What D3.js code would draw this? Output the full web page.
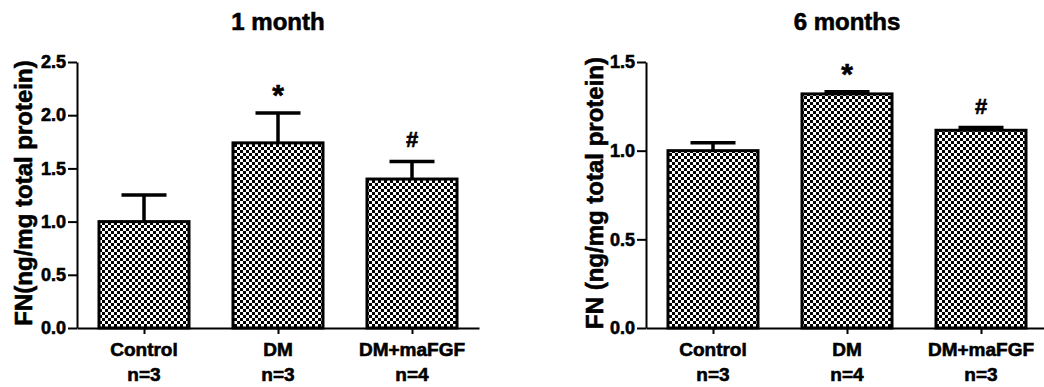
<!DOCTYPE html>
<html>
<head>
<meta charset="utf-8">
<script src="https://cdn.jsdelivr.net/npm/d3@7/dist/d3.min.js"></script>
<style>
  body { margin: 0; background: #fff; }
  svg { display: block; font-family: Arial, "Liberation Sans", sans-serif; }
  svg text { stroke: #000; stroke-width: 0.6px; }
</style>
</head>
<body>
<svg id="chart" width="1044" height="387"></svg>
<script>
// groups shown in both panels
const categories = ["Control", "DM", "DM+maFGF"];

// 1 month panel
const month1Means = [1.0, 1.74, 1.40];
const month1Errors = [0.25, 0.28, 0.165];
const month1Counts = ["n=3", "n=3", "n=4"];
const month1Marks = ["", "*", "#"];
const month1Ticks = [0, 0.5, 1.0, 1.5, 2.0, 2.5];

// 6 months panel
const month6Means = [1.0, 1.32, 1.115];
const month6Errors = [0.045, 0.012, 0.015];
const month6Counts = ["n=3", "n=4", "n=3"];
const month6Marks = ["", "*", "#"];
const month6Ticks = [0, 0.5, 1.0, 1.5];

const svg = d3.select("#chart");

// checkered fill used by every bar
const pat = svg.append("defs").append("pattern")
    .attr("id", "checker")
    .attr("patternUnits", "userSpaceOnUse")
    .attr("width", 6)
    .attr("height", 6);
pat.append("rect").attr("width", 6).attr("height", 6).attr("fill", "#fff");
pat.append("rect").attr("width", 3).attr("height", 3).attr("fill", "#000");
pat.append("rect").attr("x", 3).attr("y", 3).attr("width", 3).attr("height", 3).attr("fill", "#000");

function drawPanel(opts) {
    const g = svg.append("g");
    const top = 62, bottom = 328;

    const x = d3.scalePoint()
        .domain(categories)
        .range([opts.left, opts.left + 402])
        .padding(0.5);
    const y = d3.scaleLinear()
        .domain([0, d3.max(opts.ticks)])
        .range([bottom, top]);
    const barW = 90;

    const rows = categories.map((c, i) => ({
        name: c, mean: opts.means[i], err: opts.errors[i],
        n: opts.counts[i], mark: opts.marks[i]
    }));

    // error bars (upper only)
    const eb = g.append("g")
        .attr("stroke", "#000")
        .attr("stroke-width", 3.5)
        .selectAll("g")
        .data(rows)
        .enter().append("g");
    eb.append("line")
        .attr("x1", d => x(d.name))
        .attr("x2", d => x(d.name))
        .attr("y1", d => y(d.mean))
        .attr("y2", d => y(d.mean + d.err));
    eb.append("line")
        .attr("x1", d => x(d.name) - barW / 4)
        .attr("x2", d => x(d.name) + barW / 4)
        .attr("y1", d => y(d.mean + d.err))
        .attr("y2", d => y(d.mean + d.err));

    g.append("g")
        .selectAll("rect")
        .data(rows)
        .enter().append("rect")
            .attr("x", d => x(d.name) - barW / 2)
            .attr("y", d => y(d.mean))
            .attr("width", barW)
            .attr("height", d => y(0) - y(d.mean))
            .attr("fill", "url(#checker)")
            .attr("stroke", "#000")
            .attr("stroke-width", 3);

    // significance marks
    g.append("g")
        .attr("text-anchor", "middle")
        .style("font-weight", "bold")
        .selectAll("text")
        .data(rows.filter(d => d.mark))
        .enter().append("text")
            .attr("x", d => x(d.name))
            .attr("y", d => y(d.mean + d.err) - (d.mark === "*" ? 8 : 14))
            .style("font-size", d => d.mark === "*" ? "30px" : "22px")
            .text(d => d.mark);

    // y axis
    const yAxis = g.append("g")
        .attr("transform", `translate(${opts.left}, 0)`)
        .call(d3.axisLeft(y).tickValues(opts.ticks).tickFormat(d3.format(".1f")).tickSize(9).tickPadding(2).tickSizeOuter(0));
    yAxis.select(".domain").attr("stroke-width", 2);
    yAxis.selectAll(".tick line").attr("stroke-width", 2);
    yAxis.selectAll("text")
        .attr("fill", "#000")
        .style("font-size", "18px")
        .style("font-weight", "bold")
        .style("font-family", "Arial, 'Liberation Sans', sans-serif");

    // x axis
    const xAxis = g.append("g")
        .attr("transform", `translate(0, ${bottom})`)
        .call(d3.axisBottom(x).tickSize(6).tickSizeOuter(0).tickFormat(""));
    xAxis.select(".domain").attr("stroke-width", 2);
    xAxis.selectAll(".tick line").attr("stroke-width", 2);

    const labels = g.append("g")
        .attr("text-anchor", "middle")
        .style("font-size", "19px")
        .style("font-weight", "bold");
    labels.selectAll("text.cat")
        .data(rows)
        .enter().append("text")
            .attr("class", "cat")
            .attr("x", d => x(d.name))
            .attr("y", 356)
            .text(d => d.name);
    labels.selectAll("text.n")
        .data(rows)
        .enter().append("text")
            .attr("class", "n")
            .attr("x", d => x(d.name))
            .attr("y", 381)
            .text(d => d.n);

    // titles
    g.append("text")
        .attr("x", opts.left + 201)
        .attr("y", 30)
        .attr("text-anchor", "middle")
        .style("font-size", "24px")
        .style("font-weight", "bold")
        .text(opts.title);

    g.append("text")
        .attr("transform", `translate(${opts.yTitleX}, ${(top + bottom) / 2 - 2}) rotate(-90)`)
        .attr("text-anchor", "middle")
        .style("font-size", "24px")
        .style("font-weight", "bold")
        .text(opts.yTitle);
}

drawPanel({
    left: 77, title: "1 month", yTitle: "FN(ng/mg total protein)", yTitleX: 32,
    means: month1Means, errors: month1Errors, counts: month1Counts,
    marks: month1Marks, ticks: month1Ticks
});
drawPanel({
    left: 646, title: "6 months", yTitle: "FN (ng/mg total protein)", yTitleX: 603,
    means: month6Means, errors: month6Errors, counts: month6Counts,
    marks: month6Marks, ticks: month6Ticks
});
</script>
</body>
</html>
